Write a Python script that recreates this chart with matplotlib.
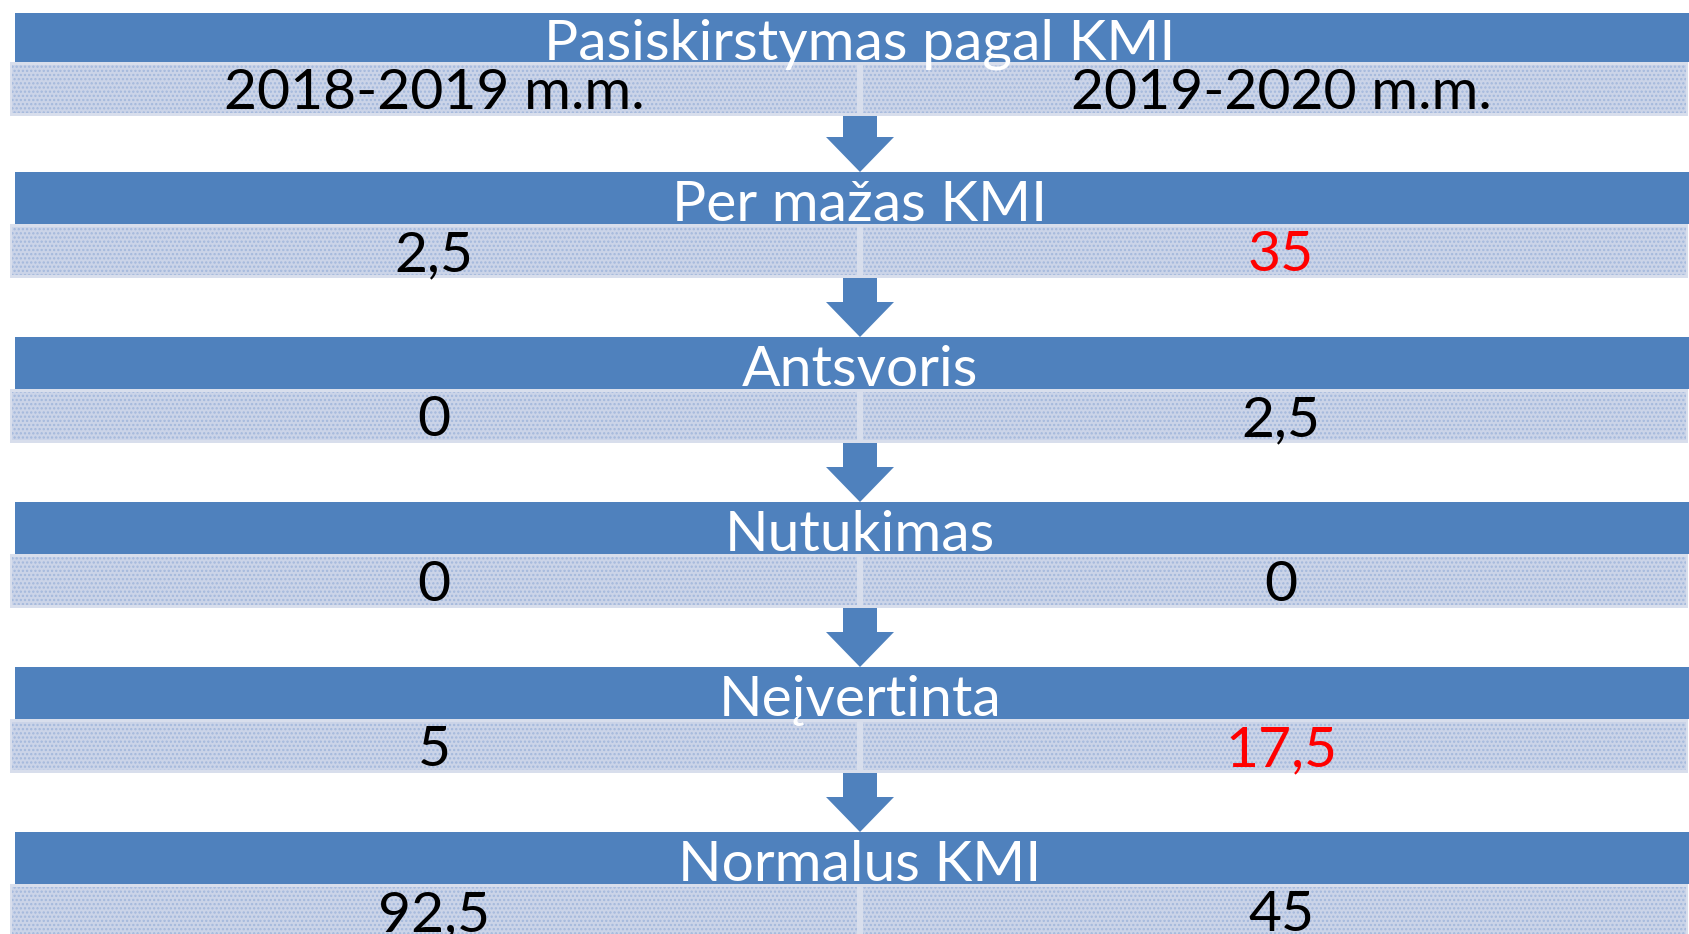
import matplotlib
matplotlib.use("Agg")
from matplotlib import pyplot as plt
from matplotlib.patches import Rectangle, FancyArrow

plt.rcParams['font.family'] = ['Lato', 'DejaVu Sans']
plt.rcParams['hatch.linewidth'] = 1.1

# data
headers = ["2018-2019 m.m.", "2019-2020 m.m."]
categories = ["Per mažas KMI", "Antsvoris", "Nutukimas", "Neįvertinta", "Normalus KMI"]
values_2019 = ["2,5", "0", "0", "5", "92,5"]
values_2020 = ["35", "2,5", "0", "17,5", "45"]
highlight_2020 = [True, False, False, True, False]
title = "Pasiskirstymas pagal KMI"

blue = '#4F81BD'
light = '#CBD4E8'
dots = '#A3B8DC'

W, H = 1690, 934
fig = plt.figure(figsize=(W / 100, H / 100), dpi=100)
ax = fig.add_axes([0, 0, 1, 1])
ax.set_xlim(0, W)
ax.set_ylim(H, 0)
ax.axis('off')

rows = [(title, headers[0], headers[1], False)]
for c, a, b, h in zip(categories, values_2019, values_2020, highlight_2020):
    rows.append((c, a, b, h))

# band layout (pixels from the top)
tops = [13] + [172 + 165 * k for k in range(len(categories))]
blue_hs = [49] + [52] * len(categories)
light_h = 54
mid = 860
xl, xr = 434, 1281

for i, (name, left, right, hot) in enumerate(rows):
    y = tops[i]
    bh = blue_hs[i]
    ax.add_patch(Rectangle((15, y), W - 15, bh, color=blue, lw=0))
    # light band in two textured halves with a gap in the middle
    ax.add_patch(Rectangle((10, y + bh), W - 12, light_h, color='#D8DEEC', lw=0))
    for x0, x1 in [(12, mid - 3), (mid + 3, W - 4)]:
        ax.add_patch(Rectangle((x0, y + bh + 3), x1 - x0, light_h - 6,
                               facecolor=light, edgecolor=dots, hatch='....', lw=0))
    ax.text(mid, y + bh - 3, name, color='white', fontsize=41,
            ha='center', va='baseline')
    ax.text(xl, y + bh + light_h - 7, left, color='black', fontsize=41,
            ha='center', va='baseline')
    ax.text(xr, y + bh + light_h - 7, right, color='red' if hot else 'black',
            fontsize=41, ha='center', va='baseline')
    if i < len(rows) - 1:
        y0 = y + bh + light_h
        y1 = tops[i + 1]
        ax.add_patch(FancyArrow(mid, y0, 0, y1 - y0, width=34, head_width=68,
                                head_length=35, length_includes_head=True,
                                color=blue, lw=0))

fig.savefig('out.png', dpi=100)
